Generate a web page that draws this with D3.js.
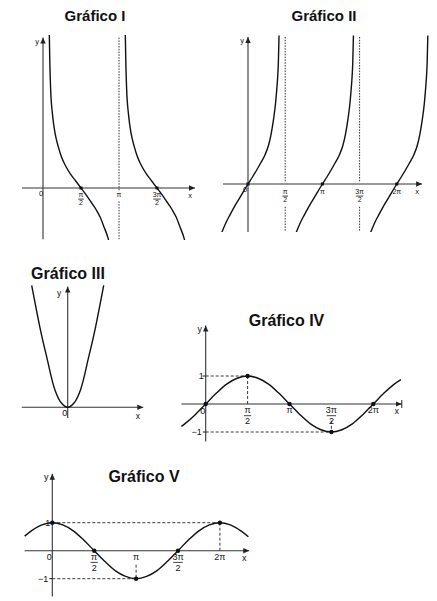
<!DOCTYPE html>
<html>
<head>
<meta charset="utf-8">
<script src="https://cdn.jsdelivr.net/npm/d3@7/dist/d3.min.js"></script>
<style>
  html, body { margin: 0; padding: 0; background: #fff; }
  svg { display: block; }
  text { font-family: "Liberation Sans", Arial, Helvetica, sans-serif; fill: #111; }
</style>
</head>
<body>
<svg id="chart" width="437" height="601"></svg>
<script>
// ---------------- DATA (x in units of π) ----------------
// Gráfico I : y = cot x
const g1B1X = [0.083, 0.09, 0.101, 0.125, 0.158, 0.2, 0.246, 0.3, 0.36, 0.43, 0.5, 0.57, 0.63, 0.7, 0.75, 0.8, 0.855, 0.87];
const g1B1Y = [4.78, 3.9, 3.06, 2.3, 1.72, 1.3, 0.95, 0.68, 0.44, 0.22, 0, -0.22, -0.43, -0.68, -0.9, -1.2, -1.56, -1.7];
const g1B2X = [1.083, 1.09, 1.101, 1.125, 1.158, 1.2, 1.246, 1.3, 1.36, 1.43, 1.5, 1.57, 1.63, 1.7, 1.75, 1.8, 1.855, 1.87];
const g1B2Y = [4.78, 3.9, 3.06, 2.3, 1.72, 1.3, 0.95, 0.68, 0.44, 0.22, 0, -0.22, -0.43, -0.68, -0.9, -1.2, -1.56, -1.7];
const g1Asymptotes = [1];
const g1Dots = [0.5, 1.5];
const g1TickX = [0.5, 1, 1.5];
const g1TickNum = ["π", "π", "3π"];
const g1TickDen = ["2", "", "2"];

// Gráfico II : y = tan x
const g2B1X = [-0.355, -0.3, -0.242, -0.18, -0.13, -0.06, 0, 0.06, 0.117, 0.17, 0.228, 0.275, 0.31, 0.342, 0.37, 0.386, 0.4, 0.408, 0.417];
const g2B1Y = [-1.4, -1.12, -0.88, -0.64, -0.46, -0.21, 0, 0.2, 0.4, 0.6, 0.83, 1.1, 1.42, 1.83, 2.3, 2.69, 3.1, 3.46, 4.24];
const g2B2X = [0.645, 0.7, 0.758, 0.82, 0.87, 0.94, 1, 1.06, 1.117, 1.17, 1.228, 1.275, 1.31, 1.342, 1.37, 1.386, 1.4, 1.408, 1.417];
const g2B2Y = [-1.4, -1.12, -0.88, -0.64, -0.46, -0.21, 0, 0.2, 0.4, 0.6, 0.83, 1.1, 1.42, 1.83, 2.3, 2.69, 3.1, 3.46, 4.24];
const g2B3X = [1.645, 1.7, 1.758, 1.82, 1.87, 1.94, 2, 2.06, 2.117, 2.17, 2.228, 2.275, 2.31, 2.342, 2.37, 2.386, 2.4, 2.408, 2.417];
const g2B3Y = [-1.4, -1.12, -0.88, -0.64, -0.46, -0.21, 0, 0.2, 0.4, 0.6, 0.83, 1.1, 1.42, 1.83, 2.3, 2.69, 3.1, 3.46, 4.24];
const g2Asymptotes = [0.5, 1.5];
const g2Dots = [0, 1, 2];
const g2TickX = [0.5, 1, 1.5, 2];
const g2TickNum = ["π", "π", "3π", "2π"];
const g2TickDen = ["2", "", "2", ""];

// Gráfico III : parabola
const g3X = [-2, -1.5, -1.17, -0.71, -0.35, 0, 0.35, 0.71, 1.17, 1.5, 2];
const g3Y = [4, 2.5, 1.66, 0.57, 0.14, 0, 0.14, 0.57, 1.66, 2.5, 4];

// Gráfico IV : y = sin x
const g4X = [-0.29, -0.25, -0.125, 0, 0.125, 0.25, 0.375, 0.5, 0.625, 0.75, 0.875, 1, 1.125, 1.25, 1.375, 1.5, 1.625, 1.75, 1.875, 2, 2.125, 2.25, 2.33];
const g4Y = [-0.8, -0.71, -0.38, 0, 0.38, 0.71, 0.92, 1, 0.92, 0.71, 0.38, 0, -0.38, -0.71, -0.92, -1, -0.92, -0.71, -0.38, 0, 0.38, 0.71, 0.87];
const g4DotX = [0, 0.5, 1, 1.5, 2];
const g4DotY = [0, 1, 0, -1, 0];
const g4TickX = [0.5, 1, 1.5, 2];
const g4TickNum = ["π", "π", "3π", "2π"];
const g4TickDen = ["2", "", "2", ""];

// Gráfico V : y = cos x
const g5X = [-0.33, -0.25, -0.125, 0, 0.125, 0.25, 0.375, 0.5, 0.625, 0.75, 0.875, 1, 1.125, 1.25, 1.375, 1.5, 1.625, 1.75, 1.875, 2, 2.125, 2.25, 2.34];
const g5Y = [0.52, 0.71, 0.92, 1, 0.92, 0.71, 0.38, 0, -0.38, -0.71, -0.92, -1, -0.92, -0.71, -0.38, 0, 0.38, 0.71, 0.92, 1, 0.92, 0.71, 0.5];
const g5DotX = [0, 0.5, 1, 1.5, 2];
const g5DotY = [1, 0, -1, 0, 1];
const g5TickX = [0.5, 1, 1.5, 2];
const g5TickNum = ["π", "π", "3π", "2π"];
const g5TickDen = ["2", "", "2", ""];

const titles = ["Gráfico I", "Gráfico II", "Gráfico III", "Gráfico IV", "Gráfico V"];

// ---------------- DRAWING ----------------
const svg = d3.select("#chart");
svg.append("rect").attr("width", 437).attr("height", 601).attr("fill", "#fff");

const defs = svg.append("defs");
defs.append("marker").attr("id", "arr").attr("viewBox", "0 0 10 10")
  .attr("refX", 10).attr("refY", 5).attr("markerWidth", 6).attr("markerHeight", 6)
  .attr("markerUnits", "userSpaceOnUse").attr("orient", "auto")
  .append("path").attr("d", "M0,0.5 L10,5 L0,9.5 Z").attr("fill", "#222");

const zip = (xs, ys) => xs.map((x, i) => [x, ys[i]]);

function panel(cfg) {
  const x = d3.scaleLinear().domain([0, 1]).range([cfg.x0, cfg.x0 + cfg.pxPerPi]);
  const y = d3.scaleLinear().domain([0, 1]).range([cfg.y0, cfg.y0 - cfg.pxPerUnit]);
  const g = svg.append("g");
  const clipId = "clip" + cfg.id;
  defs.append("clipPath").attr("id", clipId).append("rect")
    .attr("x", 0).attr("y", cfg.clipTop).attr("width", 437).attr("height", cfg.clipBottom - cfg.clipTop);
  return { x, y, g, clipId };
}

function axes(p, cfg) {
  const { x, y, g } = p;
  g.append("line").attr("x1", x(cfg.xAxis[0])).attr("x2", x(cfg.xAxis[1]))
    .attr("y1", y(0)).attr("y2", y(0)).attr("stroke", "#333").attr("stroke-width", 1.1)
    .attr("marker-end", "url(#arr)");
  g.append("line").attr("x1", x(0)).attr("x2", x(0))
    .attr("y1", y(cfg.yAxis[0])).attr("y2", y(cfg.yAxis[1])).attr("stroke", "#333").attr("stroke-width", 1.1)
    .attr("marker-end", "url(#arr)");
  g.append("text").attr("x", x(0) - 6).attr("y", y(cfg.yAxis[1]) + 6)
    .attr("font-size", cfg.fs).attr("text-anchor", "middle").text("y");
  g.append("text").attr("x", x(cfg.xAxis[1]) - 5).attr("y", y(0) + 10)
    .attr("font-size", cfg.fs).attr("text-anchor", "middle").text("x");
}

function curve(p, xs, ys, interp) {
  const line = d3.line().x(d => p.x(d[0])).y(d => p.y(d[1])).curve(interp || d3.curveCatmullRom.alpha(0.5));
  p.g.append("path").attr("d", line(zip(xs, ys))).attr("fill", "none")
    .attr("stroke", "#111").attr("stroke-width", 1.4).attr("clip-path", `url(#${p.clipId})`);
}

function tickLabels(p, xs, nums, dens, fs, top) {
  xs.forEach((v, i) => {
    const cx = p.x(v);
    p.g.append("text").attr("x", cx).attr("y", top).attr("font-size", fs)
      .attr("text-anchor", "middle").text(nums[i]);
    if (dens[i]) {
      const w = nums[i].length > 1 ? fs * 1.05 : fs * 0.8;
      p.g.append("line").attr("x1", cx - w / 2).attr("x2", cx + w / 2)
        .attr("y1", top + fs * 0.3).attr("y2", top + fs * 0.3)
        .attr("stroke", "#111").attr("stroke-width", 0.8);
      p.g.append("text").attr("x", cx).attr("y", top + fs * 1.2).attr("font-size", fs)
        .attr("text-anchor", "middle").text(dens[i]);
    }
  });
}

function title(txt, cx, base, fs) {
  svg.append("text").attr("x", cx).attr("y", base).attr("font-size", fs)
    .attr("font-weight", "bold").attr("text-anchor", "middle").text(txt);
}

// ---- Gráfico I ----
{
  const cfg = { id: 1, x0: 43, pxPerPi: 76, y0: 188, pxPerUnit: 32, clipTop: 35, clipBottom: 240,
    xAxis: [-0.276, 2.0], yAxis: [-1.6, 4.7], fs: 7.5 };
  const p = panel(cfg);
  title(titles[0], 95, 21, 15);
  g1Asymptotes.forEach(a => {
    p.g.append("line").attr("x1", p.x(a)).attr("x2", p.x(a)).attr("y1", p.y(4.7)).attr("y2", p.y(-0.1))
      .attr("stroke", "#333").attr("stroke-width", 1).attr("stroke-dasharray", "1.5,1.3");
    p.g.append("line").attr("x1", p.x(a)).attr("x2", p.x(a)).attr("y1", p.y(-0.42)).attr("y2", p.y(-1.6))
      .attr("stroke", "#333").attr("stroke-width", 1).attr("stroke-dasharray", "1.5,1.3");
  });
  axes(p, cfg);
  curve(p, g1B1X, g1B1Y, d3.curveMonotoneX);
  curve(p, g1B2X, g1B2Y, d3.curveMonotoneX);
  g1Dots.forEach(v => p.g.append("rect").attr("x", p.x(v) - 1.5).attr("y", p.y(0) - 1.5)
    .attr("width", 3).attr("height", 3).attr("fill", "#111"));
  p.g.append("text").attr("x", p.x(0) - 2).attr("y", p.y(0) + 7.5).attr("font-size", 7.5)
    .attr("text-anchor", "middle").text("0");
  tickLabels(p, g1TickX, g1TickNum, g1TickDen, 7, 197);
}

// ---- Gráfico II ----
{
  const cfg = { id: 2, x0: 248, pxPerPi: 74.4, y0: 184, pxPerUnit: 35, clipTop: 35, clipBottom: 232,
    xAxis: [-0.336, 2.34], yAxis: [-1.37, 4.2], fs: 7.5 };
  const p = panel(cfg);
  title(titles[1], 324, 21, 15);
  g2Asymptotes.forEach(a => {
    p.g.append("line").attr("x1", p.x(a)).attr("x2", p.x(a)).attr("y1", p.y(4.2)).attr("y2", p.y(0.04))
      .attr("stroke", "#333").attr("stroke-width", 1).attr("stroke-dasharray", "1.5,1.3");
    p.g.append("line").attr("x1", p.x(a)).attr("x2", p.x(a)).attr("y1", p.y(-0.65)).attr("y2", p.y(-1.36))
      .attr("stroke", "#333").attr("stroke-width", 1).attr("stroke-dasharray", "1.5,1.3");
  });
  axes(p, cfg);
  curve(p, g2B1X, g2B1Y, d3.curveMonotoneX);
  curve(p, g2B2X, g2B2Y, d3.curveMonotoneX);
  curve(p, g2B3X, g2B3Y, d3.curveMonotoneX);
  g2Dots.forEach(v => p.g.append("rect").attr("x", p.x(v) - 1.5).attr("y", p.y(0) - 1.5)
    .attr("width", 3).attr("height", 3).attr("fill", "#111"));
  p.g.append("text").attr("x", p.x(0) - 3).attr("y", p.y(0) + 8).attr("font-size", 7.5)
    .attr("text-anchor", "middle").text("0");
  tickLabels(p, g2TickX, g2TickNum, g2TickDen, 7, 194);
}

// ---- Gráfico III ----
{
  const x = d3.scaleLinear().domain([-1, 1]).range([49.7, 85.7]);
  const y = d3.scaleLinear().domain([0, 1]).range([407.3, 376.8]);
  const g = svg.append("g");
  defs.append("clipPath").attr("id", "clip3").append("rect").attr("x", 0).attr("y", 285).attr("width", 437).attr("height", 140);
  title(titles[2], 68, 278.5, 16);
  g.append("line").attr("x1", x(-2.55)).attr("x2", x(4.2)).attr("y1", y(0)).attr("y2", y(0))
    .attr("stroke", "#333").attr("stroke-width", 1.1).attr("marker-end", "url(#arr)");
  g.append("line").attr("x1", x(0)).attr("x2", x(0)).attr("y1", y(-0.35)).attr("y2", y(3.96))
    .attr("stroke", "#333").attr("stroke-width", 1.1).attr("marker-end", "url(#arr)");
  const line = d3.line().x(d => x(d[0])).y(d => y(d[1])).curve(d3.curveCatmullRom.alpha(0.5));
  g.append("path").attr("d", line(zip(g3X, g3Y))).attr("fill", "none").attr("stroke", "#111")
    .attr("stroke-width", 1.4).attr("clip-path", "url(#clip3)");
  g.append("text").attr("x", x(0) - 8.5).attr("y", y(3.96) + 9).attr("font-size", 8.5).attr("text-anchor", "middle").text("y");
  g.append("text").attr("x", x(3.9)).attr("y", y(0) + 12).attr("font-size", 8.5).attr("text-anchor", "middle").text("x");
  g.append("text").attr("x", x(0) - 3).attr("y", y(0) + 9).attr("font-size", 9).attr("text-anchor", "middle").text("0");
}

// sine/cosine panels
function wavePanel(id, x0, y0, xs, ys, dxs, dys, tx, tn, td, xAxis, yAxis, ttl, tcx, tbase, dashes, bar) {
  const cfg = { id, x0, pxPerPi: 83.8, y0, pxPerUnit: 28, clipTop: 0, clipBottom: 601, xAxis, yAxis, fs: 9 };
  const p = panel(cfg);
  title(ttl, tcx, tbase, 16);
  dashes.forEach(d => {
    p.g.append("line").attr("x1", p.x(d[0])).attr("x2", p.x(d[2])).attr("y1", p.y(d[1])).attr("y2", p.y(d[3]))
      .attr("stroke", "#222").attr("stroke-width", 0.9).attr("stroke-dasharray", "3,2");
  });
  axes(p, cfg);
  if (bar) {
    p.g.append("line").attr("x1", p.x(xAxis[1])).attr("x2", p.x(xAxis[1]))
      .attr("y1", p.y(0) - 4).attr("y2", p.y(0) + 4).attr("stroke", "#222").attr("stroke-width", 1);
  }
  [1, -1].forEach(v => p.g.append("line").attr("x1", p.x(0) - 3).attr("x2", p.x(0))
    .attr("y1", p.y(v)).attr("y2", p.y(v)).attr("stroke", "#222").attr("stroke-width", 1));
  curve(p, xs, ys);
  dxs.forEach((v, i) => p.g.append("circle").attr("cx", p.x(v)).attr("cy", p.y(dys[i])).attr("r", 2.2).attr("fill", "#111"));
  p.g.append("text").attr("x", p.x(0) - 4.5).attr("y", p.y(1) + 3.2).attr("font-size", 9).attr("text-anchor", "middle").text("1");
  p.g.append("text").attr("x", p.x(0) - 4).attr("y", p.y(-1) + 3.2).attr("font-size", 9).attr("text-anchor", "end").text("−1");
  p.g.append("text").attr("x", p.x(0) - 3).attr("y", p.y(0) + 9.5).attr("font-size", 9).attr("text-anchor", "middle").text("0");
  tickLabels(p, tx, tn, td, 9, p.y(0) + 9);
  return p;
}

wavePanel(4, 205.7, 404, g4X, g4Y, g4DotX, g4DotY, g4TickX, g4TickNum, g4TickDen,
  [-0.29, 2.34], [-1.34, 2.8], titles[3], 286.5, 326,
  [[0, 1, 0.5, 1], [0.5, 1, 0.5, 0], [0, -1, 1.5, -1], [1.5, -0.6, 1.5, -1]], true);

wavePanel(5, 52.3, 550.7, g5X, g5Y, g5DotX, g5DotY, g5TickX, g5TickNum, g5TickDen,
  [-0.33, 2.35], [-1.64, 2.75], titles[4], 144, 482,
  [[0, 1, 2, 1], [2, 1, 2, 0], [0, -1, 1, -1], [1, -0.5, 1, -1]], false);
</script>
</body>
</html>
